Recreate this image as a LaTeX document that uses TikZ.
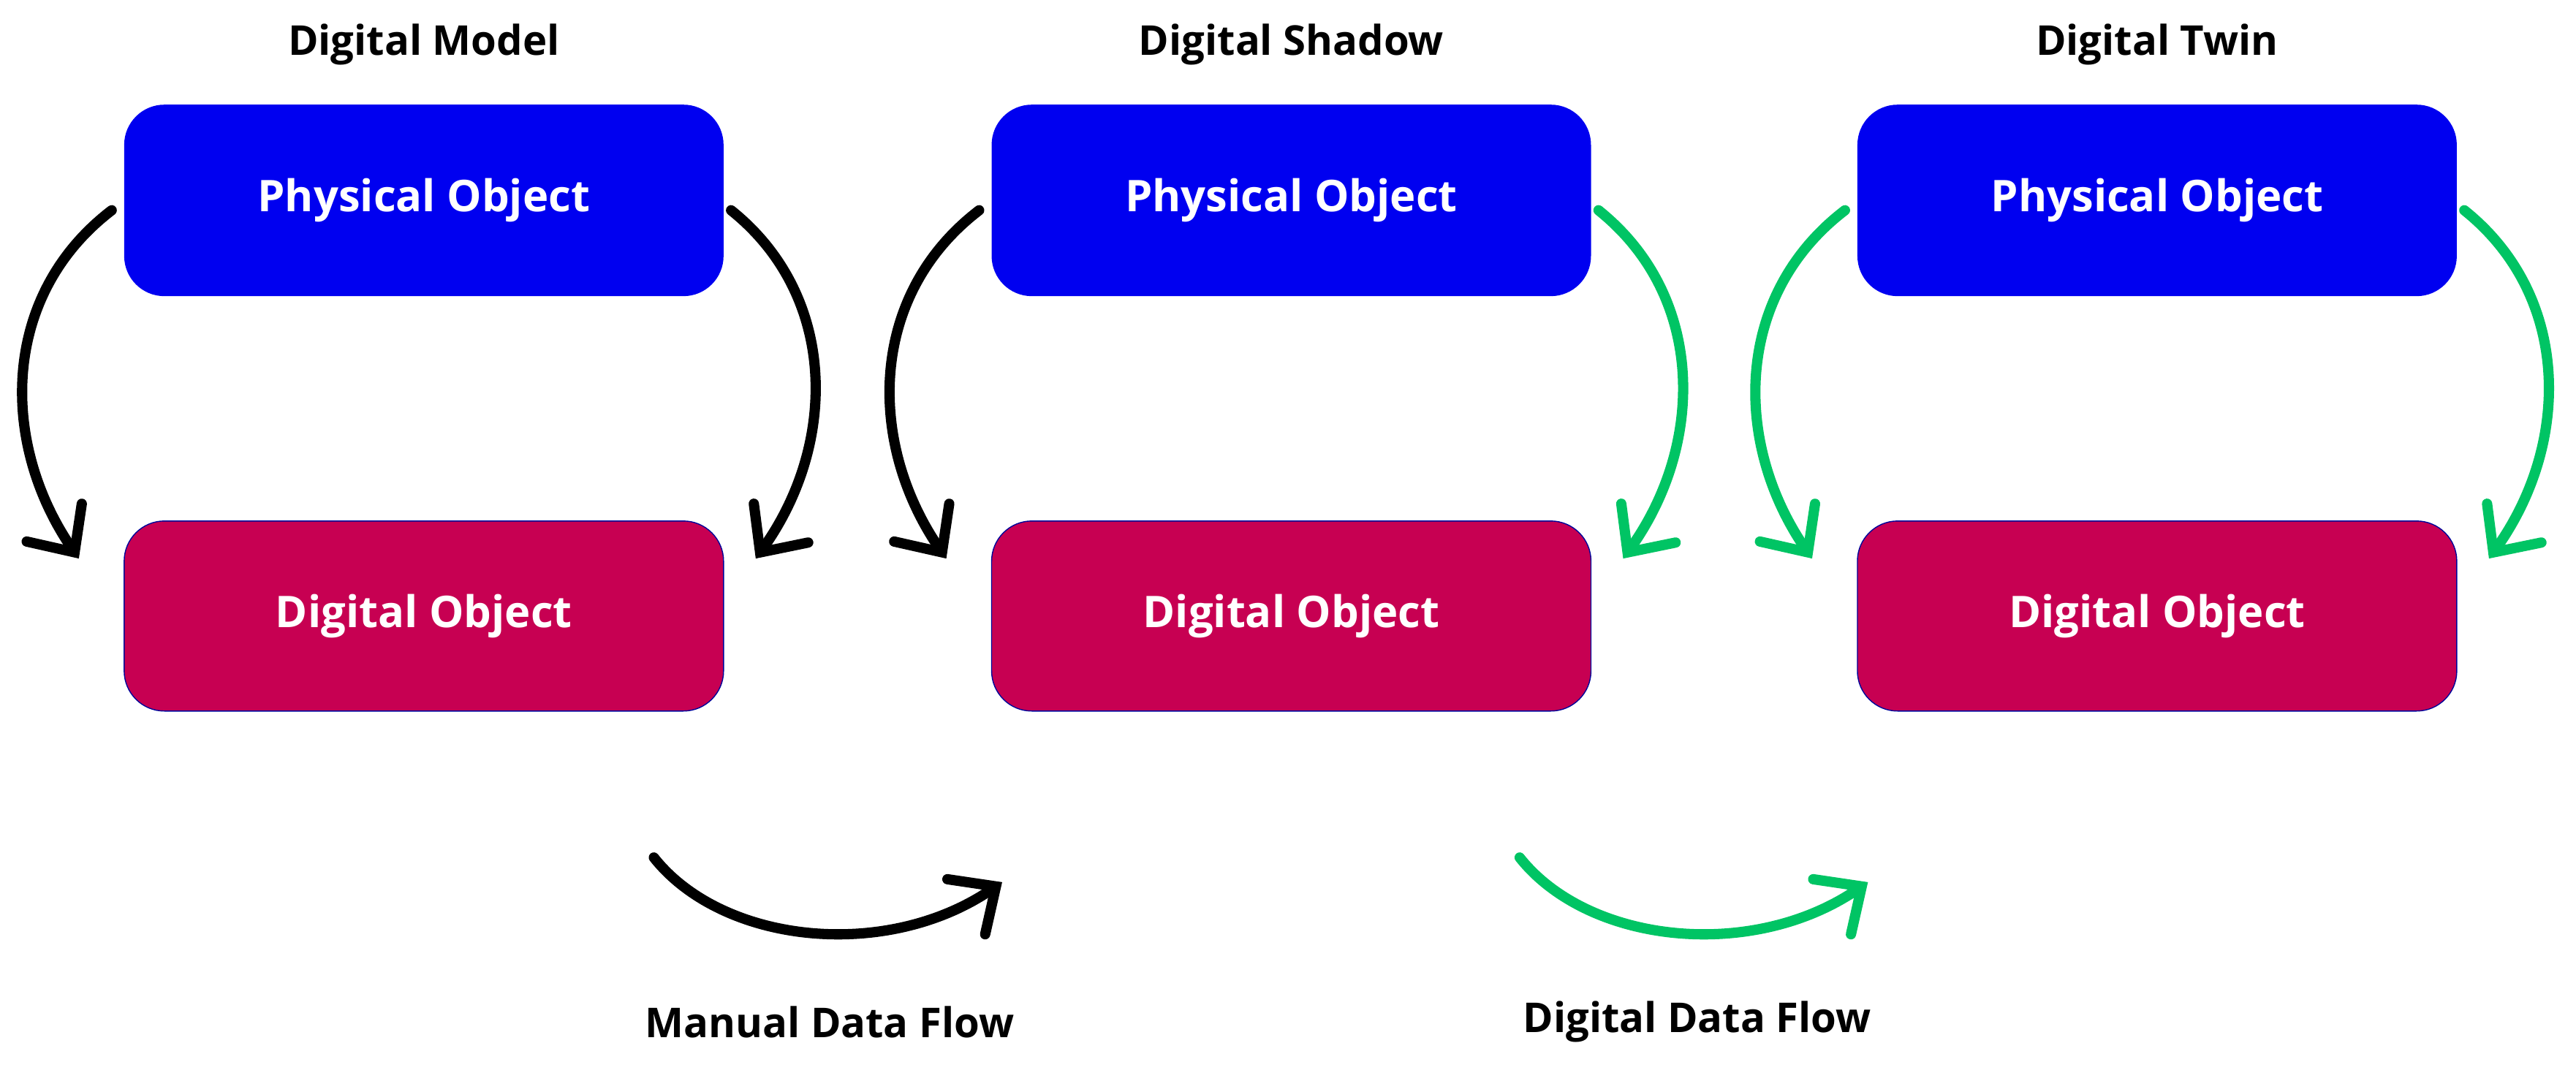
\documentclass[tikz,border=0pt]{standalone}
\usepackage{fontspec}
\setmainfont{Open Sans}
\usetikzlibrary{arrows.meta}
\definecolor{pblue}{RGB}{0,0,240}
\definecolor{dred}{RGB}{199,0,82}
\definecolor{fgreen}{RGB}{0,196,100}
\begin{document}
\begin{tikzpicture}[x=0.02247cm,y=-0.02247cm,
  box/.style={rounded corners=0.55cm,minimum width=365\pgf@x,text=white,font=\bfseries\fontsize{17}{20}\selectfont},
  phys/.style={draw=none,fill=pblue,rounded corners=0.55cm,text=white,font=\bfseries\fontsize{17}{20}\selectfont,minimum width=8.2cm,minimum height=2.62cm},
  dig/.style={draw=blue!60!black,line width=0.4pt,fill=dred,rounded corners=0.55cm,text=white,font=\bfseries\fontsize{17}{20}\selectfont,minimum width=8.2cm,minimum height=2.6cm},
  title/.style={font=\bfseries\fontsize{16}{19}\selectfont},
  arr/.style={line width=4pt,line cap=round,line join=round,-{Straight Barb[length=14pt,width=26pt,line cap=round]}}]
\useasboundingbox (0,0) rectangle (1568,653);
\foreach \i/\x/\t in {1/258/Digital Model,2/786/Digital Shadow,3/1313/Digital Twin}{
  \node[title] (t\i) at (\x,27) {\t};
  \node[phys] (p\i) at (\x,122) {Physical Object};
  \node[dig] (d\i) at (\x,375) {Digital Object};
}
% column 1
\coordinate (a1s) at (68,128); \coordinate (a1e) at (48,340);
\coordinate (b1s) at (445,128); \coordinate (b1e) at (460,340);
\draw[arr] (a1s) .. controls (0,180) and (0,270) .. (a1e);
\draw[arr] (b1s) .. controls (510,180) and (510,270) .. (b1e);
% column 2
\coordinate (a2s) at (596,128); \coordinate (a2e) at (576,340);
\coordinate (b2s) at (973,128); \coordinate (b2e) at (988,340);
\draw[arr] (a2s) .. controls (528,180) and (528,270) .. (a2e);
\draw[arr,fgreen] (b2s) .. controls (1038,180) and (1038,270) .. (b2e);
% column 3
\coordinate (a3s) at (1123,128); \coordinate (a3e) at (1103,340);
\coordinate (b3s) at (1500,128); \coordinate (b3e) at (1515,340);
\draw[arr,fgreen] (a3s) .. controls (1055,180) and (1055,270) .. (a3e);
\draw[arr,fgreen] (b3s) .. controls (1565,180) and (1565,270) .. (b3e);
% bottom
\coordinate (m1) at (398,522); \coordinate (m2) at (610,537);
\coordinate (g1) at (925,522); \coordinate (g2) at (1137,537);
\draw[arr] (m1) .. controls (440,575) and (540,585) .. (m2);
\draw[arr,fgreen] (g1) .. controls (967,575) and (1067,585) .. (g2);
\node[title] (l1) at (505,622) {Manual Data Flow};
\node[title] (l2) at (1033,622) {Digital Data Flow};
\end{tikzpicture}
\end{document}
